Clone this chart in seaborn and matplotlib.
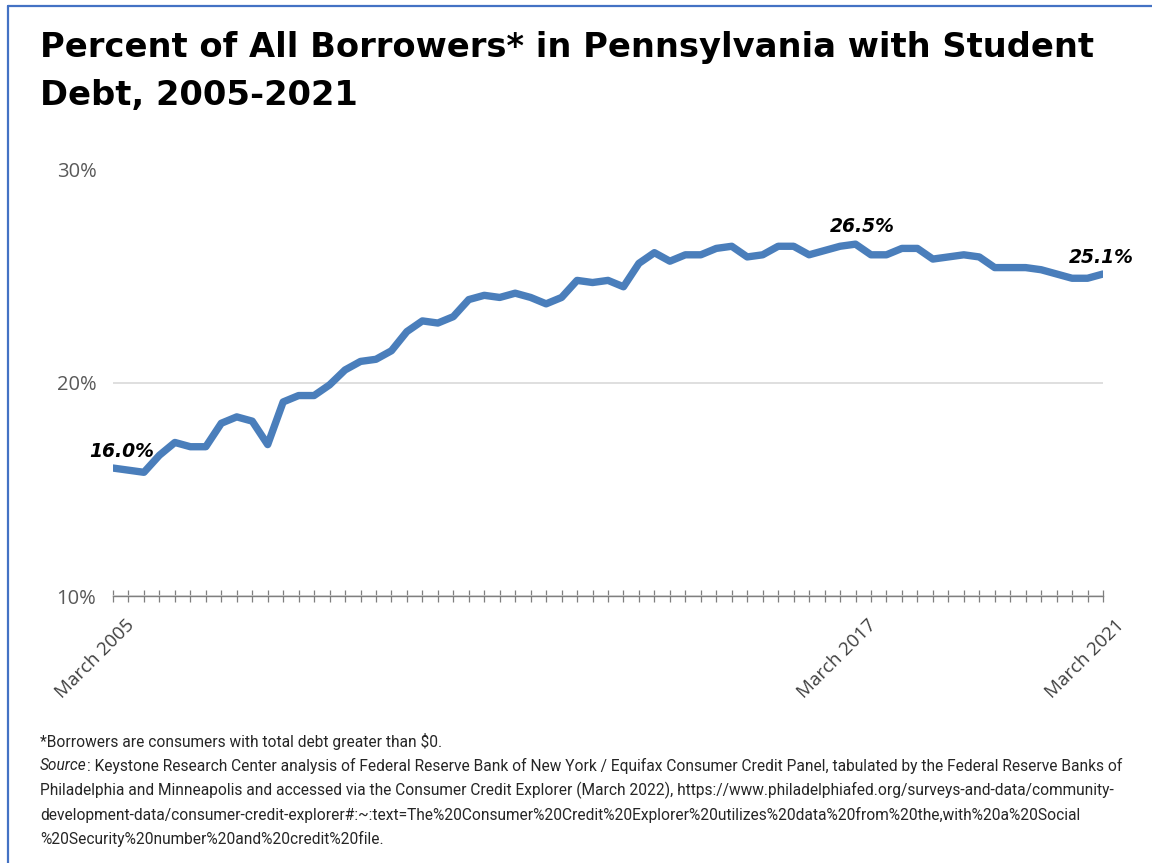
import matplotlib
matplotlib.use("Agg")
import matplotlib.pyplot as plt
import matplotlib.transforms as mtransforms
import seaborn as sns
import pandas as pd
from matplotlib.lines import Line2D

# Quarterly share of borrowers holding student debt, Pennsylvania (percent)
quarters = [f"{m} {y}" for y in range(2005, 2022) for m in ("March", "June", "September", "December")][:65]
pct_with_student_debt = [
    16.0, 15.9, 15.8, 16.6, 17.2, 17.0, 17.0, 18.1, 18.4, 18.2,
    17.1, 19.1, 19.4, 19.4, 19.9, 20.6, 21.0, 21.1, 21.5, 22.4,
    22.9, 22.8, 23.1, 23.9, 24.1, 24.0, 24.2, 24.0, 23.7, 24.0,
    24.8, 24.7, 24.8, 24.5, 25.6, 26.1, 25.7, 26.0, 26.0, 26.3,
    26.4, 25.9, 26.0, 26.4, 26.4, 26.0, 26.2, 26.4, 26.5, 26.0,
    26.0, 26.3, 26.3, 25.8, 25.9, 26.0, 25.9, 25.4, 25.4, 25.4,
    25.3, 25.1, 24.9, 24.9, 25.1,
]
labelled_quarters = ["March 2005", "March 2017", "March 2021"]
callout_quarters = ["March 2005", "March 2017", "March 2021"]
y_ticks = [10, 20, 30]

title = "Percent of All Borrowers* in Pennsylvania with Student\nDebt, 2005-2021"
footnote = "*Borrowers are consumers with total debt greater than $0."
source_lead = "Source"
source_lines = [
    ": Keystone Research Center analysis of Federal Reserve Bank of New York / Equifax Consumer Credit Panel, tabulated by the Federal Reserve Banks of",
    "Philadelphia and Minneapolis and accessed via the Consumer Credit Explorer (March 2022), https://www.philadelphiafed.org/surveys-and-data/community-",
    "development-data/consumer-credit-explorer#:~:text=The%20Consumer%20Credit%20Explorer%20utilizes%20data%20from%20the,with%20a%20Social",
    "%20Security%20number%20and%20credit%20file.",
]

df = pd.DataFrame({"quarter": quarters, "pct": pct_with_student_debt})
df["pos"] = range(len(df))

sns.set_theme(style="white")
plt.rcParams["font.family"] = ["Open Sans", "DejaVu Sans"]

W, H = 1152, 863
fig = plt.figure(figsize=(W / 100, H / 100), dpi=100)
fig.patch.set_facecolor("white")

ax = fig.add_axes([113 / W, (H - 596) / H, (1103 - 113) / W, (596 - 169.5) / H])

line_color = "#4A7EBB"
sns.lineplot(data=df, x="pos", y="pct", ax=ax, color=line_color, linewidth=5.3,
             solid_joinstyle="round", solid_capstyle="round", legend=False)

ax.set_xlim(0, len(df) - 1)
ax.set_ylim(min(y_ticks), max(y_ticks))
ax.set_xlabel("")
ax.set_ylabel("")

# horizontal gridlines
ax.set_yticks(y_ticks)
ax.set_yticklabels([f"{v}%" for v in y_ticks], color="#595959", fontsize=14.5)
ax.yaxis.grid(True, color="#D9D9D9", linewidth=1.2)
ax.set_axisbelow(True)
ax.tick_params(axis="y", left=False, length=0, pad=12)

# quarterly ticks with only a few labelled
ax.set_xticks(df["pos"])
ax.set_xticklabels([q if q in labelled_quarters else "" for q in df["quarter"]],
                   rotation=45, ha="right", rotation_mode="anchor",
                   color="#404040", fontsize=13.5)
ax.tick_params(axis="x", bottom=True, direction="inout", length=8, width=0.9,
               color="#7F7F7F", pad=4)
shift = mtransforms.ScaledTranslation(12 / 100, -9 / 100, fig.dpi_scale_trans)
for lbl in ax.get_xticklabels():
    lbl.set_transform(lbl.get_transform() + shift)

for side in ("top", "right", "left"):
    ax.spines[side].set_visible(False)
ax.spines["bottom"].set_color("#7F7F7F")
ax.spines["bottom"].set_linewidth(1.0)
ax.spines["bottom"].set_zorder(1)

# value callouts
offsets = {"March 2005": (6, 5), "March 2017": (5, 6), "March 2021": (-1, 5)}
for q in callout_quarters:
    row = df[df["quarter"] == q].iloc[0]
    ax.annotate(f"{row['pct']:.1f}%", xy=(row["pos"], row["pct"]),
                xytext=offsets[q], textcoords="offset points",
                ha="center", va="bottom", fontsize=13.5, fontstyle="oblique",
                fontweight="bold", color="#000000", family=["DejaVu Sans"],
                annotation_clip=False)

# title
fig.text(40 / W, 1 - 31 / H, title, ha="left", va="top", fontsize=24.3,
         fontweight="bold", color="#000000", linespacing=1.56,
         family=["DejaVu Sans"])

# notes under the chart
note_font = dict(fontsize=11.2, color="#262626", family=["Liberation Sans Narrow", "Roboto", "DejaVu Sans"])
line_ys = [741, 765.5, 790, 814.5, 839]
fig.text(40 / W, 1 - line_ys[0] / H, footnote, ha="left", va="center", **note_font)
lead = fig.text(40 / W, 1 - line_ys[1] / H, source_lead, ha="left", va="center",
                fontstyle="italic", **note_font)
fig.canvas.draw()
bb = lead.get_window_extent()
fig.text(bb.x1 / W, 1 - line_ys[1] / H, source_lines[0], ha="left", va="center", **note_font)
for y, txt in zip(line_ys[2:], source_lines[1:]):
    fig.text(40 / W, 1 - y / H, txt, ha="left", va="center", **note_font)

# frame edges
frame_color = "#4472C4"
fig.add_artist(Line2D([8 / W, 1.0], [1 - 6 / H, 1 - 6 / H], transform=fig.transFigure,
                      color=frame_color, linewidth=1.6))
fig.add_artist(Line2D([8 / W, 8 / W], [1 - 6 / H, 0.0], transform=fig.transFigure,
                      color=frame_color, linewidth=1.6))

fig.savefig("out.png", dpi=100)
